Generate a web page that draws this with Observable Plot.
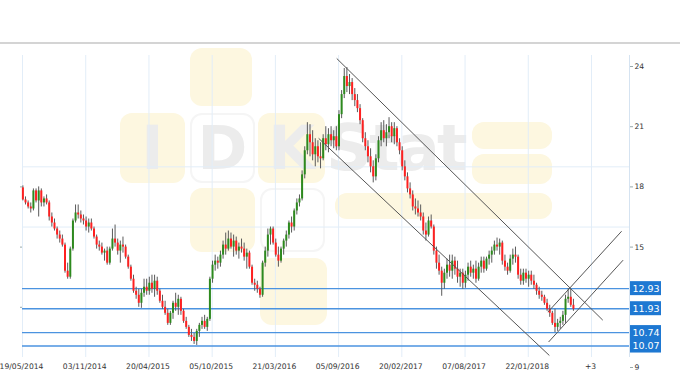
<!DOCTYPE html>
<html><head><meta charset="utf-8">
<script src="https://cdn.jsdelivr.net/npm/d3@7"></script>
<script src="https://cdn.jsdelivr.net/npm/@observablehq/plot@0.6"></script>
<style>
html,body{margin:0;padding:0;background:#fff;width:680px;height:380px;overflow:hidden}
#topbar{height:42px;border-bottom:2px solid #d4d4d4}
#wrap{position:relative;width:680px;height:336px}
#wm{position:absolute;left:0;top:0;width:680px;height:336px;z-index:0}
#wm div{position:absolute;border-radius:12px;box-sizing:border-box}
#wm .y{background:#fdf7e0}
#wm .w{background:#fff;border:2px solid #f5f5f5}
#wm .t{font-family:"DejaVu Sans";font-weight:bold;color:#ececec;text-align:center;border-radius:0}
#chart{position:absolute;left:0;top:0;z-index:1}
</style></head>
<body>
<div id="topbar"></div>
<div id="wrap">
  <div id="wm">
    <div class="y" style="left:190px;top:4px;width:62px;height:58px"></div>
    <div class="y" style="left:120px;top:69px;width:65px;height:70px"></div>
    <div class="w" style="left:190px;top:69px;width:65px;height:70px"></div>
    <div class="y" style="left:258px;top:69px;width:67px;height:70px"></div>
    <div class="y" style="left:472px;top:78px;width:80px;height:27px"></div>
    <div class="y" style="left:472px;top:110px;width:80px;height:30px"></div>
    <div class="y" style="left:335px;top:149px;width:217px;height:26px"></div>
    <div class="y" style="left:190px;top:144px;width:65px;height:64px"></div>
    <div class="w" style="left:260px;top:144px;width:65px;height:64px"></div>
    <div class="y" style="left:260px;top:214px;width:67px;height:67px"></div>
    <div class="t" style="left:120px;top:68px;width:65px;font-size:60px;line-height:72px">I</div>
    <div class="t" style="left:190px;top:68px;width:65px;font-size:60px;line-height:72px">D</div>
    <div class="t" style="left:258px;top:68px;width:67px;font-size:60px;line-height:72px">K</div>
    <div class="t" style="left:326px;top:66px;width:145px;font-size:64px;line-height:76px;letter-spacing:-3px;text-align:left">Stat</div>
  </div>
  <div id="chart"></div>
</div>
<script>
// weekly candles [open, high, low, close], first week starting 2014-05-20
const firstWeek = "2014-05-20";
const ohlc = [
[17.95,18.05,17.3,17.35],[17.35,17.5,17.1,17.2],[17.2,17.3,16.9,17.0],[17.0,17.2,16.7,16.9],[16.9,17.9,16.8,17.8],
[17.8,17.9,17.2,17.3],[17.3,18.0,16.5,17.8],[17.8,17.9,17.0,17.2],[17.2,17.5,17.0,17.4],[17.4,17.6,17.1,17.2],
[17.2,17.3,16.3,16.5],[16.5,16.7,16.0,16.2],[16.2,16.4,15.8,15.9],[15.9,16.0,15.4,15.6],[15.6,15.8,15.2,15.4],
[15.4,15.6,15.0,15.1],[15.1,15.2,13.7,13.8],[13.8,14.2,13.4,13.5],[13.5,15.0,13.4,14.9],[14.9,16.4,14.8,16.3],
[16.3,17.1,16.2,16.7],[16.7,17.1,16.4,16.6],[16.6,16.8,16.2,16.4],[16.4,16.6,16.1,16.3],[16.3,16.5,15.8,16.0],
[16.0,16.4,15.7,16.2],[16.2,16.4,15.8,15.9],[15.9,16.0,15.4,15.5],[15.5,15.6,14.9,15.1],[15.1,15.3,14.8,15.0],
[15.0,15.2,14.6,14.7],[14.7,14.9,14.3,14.8],[14.8,15.0,14.1,14.2],[14.2,15.0,14.1,14.9],[14.9,15.9,14.8,15.4],
[15.4,16.1,15.0,15.2],[15.2,15.4,14.6,14.8],[14.8,15.3,14.2,15.1],[15.1,15.5,14.7,15.0],[15.0,15.1,14.4,14.5],
[14.5,14.6,13.9,14.0],[14.0,14.1,13.3,13.4],[13.4,13.6,12.7,12.8],[12.8,13.0,12.4,12.6],[12.6,12.9,12.0,12.2],
[12.2,12.9,11.95,12.7],[12.7,13.4,12.5,13.0],[13.0,13.4,12.6,12.8],[12.8,13.5,12.6,13.2],[13.2,13.6,12.7,12.9],
[12.9,13.6,12.5,13.3],[13.3,13.5,12.6,12.8],[12.8,12.9,12.2,12.3],[12.3,12.6,11.9,12.0],[12.0,12.3,11.6,11.7],
[11.7,11.9,11.1,11.2],[11.2,11.8,11.1,11.7],[11.7,12.3,11.4,12.2],[12.2,12.7,11.8,12.0],[12.0,12.6,11.6,12.4],
[12.4,12.5,11.6,11.8],[11.8,11.9,11.2,11.3],[11.3,11.5,10.9,11.0],[11.0,11.1,10.5,10.6],[10.6,10.9,10.3,10.5],
[10.5,10.7,10.15,10.3],[10.3,10.9,10.1,10.8],[10.8,11.2,10.5,11.1],[11.1,11.5,10.9,11.3],[11.3,11.6,10.9,11.0],
[11.0,11.5,10.8,11.4],[11.4,13.5,11.3,13.4],[13.4,14.3,13.2,14.1],[14.1,14.6,13.8,14.3],[14.3,14.5,13.9,14.2],
[14.2,14.8,14.0,14.6],[14.6,15.3,14.4,15.1],[15.1,15.7,14.6,14.9],[14.9,15.8,14.8,15.4],[15.4,15.7,14.9,15.0],
[15.0,15.6,14.5,15.3],[15.3,15.5,14.6,14.8],[14.8,15.2,14.4,15.0],[15.0,15.4,14.7,14.9],[14.9,15.2,14.3,14.5],
[14.5,14.9,13.9,14.7],[14.7,14.8,13.9,14.0],[14.0,14.1,13.1,13.2],[13.2,13.4,12.8,13.1],[13.1,13.3,12.7,12.9],
[12.9,13.0,12.45,12.6],[12.6,14.3,12.5,14.2],[14.2,15.0,14.0,14.8],[14.8,15.9,14.5,15.6],[15.6,16.0,15.1,15.9],
[15.9,16.0,15.1,15.2],[15.2,15.4,14.5,14.6],[14.6,15.0,14.0,14.3],[14.3,15.0,14.2,14.9],[14.9,15.4,14.6,15.3],
[15.3,15.8,15.0,15.6],[15.6,16.3,15.4,16.2],[16.2,16.5,15.7,16.0],[16.0,16.9,15.8,16.8],[16.8,17.4,16.6,17.2],
[17.2,17.6,17.0,17.4],[17.4,18.8,17.3,18.6],[18.6,20.0,18.4,19.8],[19.8,21.2,19.6,20.6],[20.6,21.1,19.5,20.2],
[20.2,20.8,19.3,19.6],[19.6,20.4,19.0,20.0],[20.0,20.3,19.2,19.5],[19.5,20.2,18.9,19.4],[19.4,20.6,19.3,20.4],
[20.4,21.0,19.8,20.1],[20.1,20.9,19.7,20.6],[20.6,21.0,20.0,20.3],[20.3,20.8,19.9,20.5],[20.5,21.0,19.8,20.0],
[20.0,21.8,19.8,21.6],[21.6,22.8,21.4,22.6],[22.6,23.9,22.4,23.5],[23.5,23.95,22.7,23.0],[23.0,23.6,22.6,23.2],
[23.2,23.4,22.3,22.6],[22.6,22.9,22.0,22.3],[22.3,22.6,21.7,21.9],[21.9,22.1,21.1,21.3],[21.3,21.4,20.2,20.4],
[20.4,20.7,19.8,20.0],[20.0,20.3,19.2,19.5],[19.5,19.9,18.7,19.0],[19.0,19.3,18.2,18.5],[18.5,19.6,18.3,19.4],
[19.4,20.5,19.2,20.3],[20.3,21.2,20.0,20.8],[20.8,21.3,20.2,20.4],[20.4,21.1,20.0,20.7],[20.7,21.45,20.4,21.0],
[21.0,21.2,20.2,20.5],[20.5,21.2,20.1,20.9],[20.9,21.0,20.0,20.2],[20.2,20.4,19.6,19.8],[19.8,20.0,18.8,19.0],
[19.0,19.3,18.3,18.5],[18.5,18.7,17.7,17.9],[17.9,18.2,17.4,17.6],[17.6,17.8,16.8,17.0],[17.0,17.4,16.6,16.9],
[16.9,17.3,16.5,16.7],[16.7,17.1,16.3,16.5],[16.5,16.7,15.6,15.8],[15.8,16.2,15.3,15.6],[15.6,16.5,15.5,16.3],
[16.3,16.6,15.9,16.0],[16.0,16.1,14.6,14.8],[14.8,15.0,13.9,14.2],[14.2,14.6,13.6,13.8],[13.8,14.0,12.55,13.2],
[13.2,13.9,12.9,13.7],[13.7,14.4,13.4,14.1],[14.1,14.6,13.5,13.8],[13.8,14.6,13.4,14.3],[14.3,14.5,13.6,13.9],
[13.9,14.3,13.2,13.5],[13.5,13.9,13.0,13.7],[13.7,13.9,12.9,13.2],[13.2,13.8,12.95,13.6],[13.6,14.2,13.3,14.0],
[14.0,14.3,13.5,13.7],[13.7,14.1,13.4,13.9],[13.9,14.3,13.2,13.4],[13.4,14.2,13.3,14.0],[14.0,14.5,13.7,14.3],
[14.3,14.5,13.7,13.9],[13.9,14.5,13.8,14.4],[14.4,14.8,14.1,14.6],[14.6,15.0,14.2,14.8],[14.8,15.3,14.6,15.1],
[15.1,15.45,14.8,15.0],[15.0,15.4,14.6,15.2],[15.2,15.3,14.1,14.3],[14.3,14.6,13.8,14.0],[14.0,14.2,13.6,13.8],
[13.8,14.6,13.7,14.4],[14.4,14.9,14.1,14.6],[14.6,15.0,14.2,14.5],[14.5,14.6,13.4,13.6],[13.6,13.9,13.1,13.3],
[13.3,13.9,13.1,13.7],[13.7,13.9,13.2,13.4],[13.4,13.8,13.0,13.6],[13.6,13.8,13.1,13.3],[13.3,13.6,12.9,13.1],
[13.1,13.2,12.6,12.8],[12.8,13.0,12.4,12.6],[12.6,12.8,12.3,12.5],[12.5,12.6,12.1,12.2],[12.2,12.4,11.8,11.9],
[11.9,12.1,11.5,11.7],[11.7,11.8,11.1,11.2],[11.2,11.9,10.74,11.0],[11.0,11.4,10.8,11.2],[11.2,11.5,10.9,11.3],
[11.3,11.8,11.1,11.6],[11.6,12.6,11.2,12.4],[12.4,12.93,12.2,12.5],[12.5,12.9,12.0,12.1],[12.1,12.4,11.8,11.9]
];
const tickDates = ["2014-05-19","2014-11-03","2015-04-20","2015-10-05","2016-03-21","2016-09-05","2017-02-20","2017-08-07","2018-01-22","2018-07-09"];
const tickLabels = ["19/05/2014","03/11/2014","20/04/2015","05/10/2015","21/03/2016","05/09/2016","20/02/2017","07/08/2017","22/01/2018","+3"];
const yTicks = [24, 21, 18, 15, 9];
const gridValues = [19, 16];
const levels = [12.93, 11.93, 10.74, 10.07];
const trendLines = [
  {x1:"2016-08-31", y1:24.4,  x2:"2018-08-08", y2:11.36},
  {x1:"2016-07-14", y1:20.42, x2:"2018-03-19", y2:9.6},
  {x1:"2018-03-15", y1:11.76, x2:"2018-09-27", y2:15.79},
  {x1:"2018-03-17", y1:10.27, x2:"2018-10-01", y2:14.35}
];
const xDomain = ["2014-05-19", "2018-10-18"];
const yDomain = [9, 24];

const D = s => new Date(s);
const t0 = Date.parse(firstWeek);
const candles = ohlc.map(([o,h,l,c], i) => ({date: new Date(t0 + i*7*864e5), open:o, high:h, low:l, close:c}));
const ticks = tickDates.map(D);
const xEnd = D(xDomain[1]);
const lines = trendLines.map(d => ({x1: D(d.x1), y1: d.y1, x2: D(d.x2), y2: d.y2}));

const chart = Plot.plot({
  width: 680, height: 336,
  marginLeft: 22, marginRight: 51, marginTop: 11, marginBottom: 23,
  style: {background: "transparent", fontFamily: "DejaVu Sans", fontSize: "7.6px", color: "#333", overflow: "visible"},
  x: {type: "utc", domain: xDomain.map(D)},
  y: {domain: yDomain, range: [323, 22]},
  marks: [
    Plot.ruleX(ticks, {stroke: "#e2edf8", strokeWidth: 1}),
    Plot.ruleY(gridValues, {stroke: "#e2edf8", strokeWidth: 1}),
    Plot.ruleX([xEnd], {stroke: "#d5e3f1", strokeWidth: 1}),
    Plot.ruleY(levels, {stroke: "#4b93e0", strokeWidth: 1.4}),
    Plot.ruleX(candles, {x: "date", y1: "low", y2: "high", stroke: "#5a5a5a", strokeWidth: 1}),
    Plot.ruleX(candles, {x: "date", y1: "open", y2: "close", strokeWidth: 2,
      stroke: d => d.close >= d.open ? "#2d8a1e" : "#ff2020"}),
    Plot.link(lines, {x1: "x1", y1: "y1", x2: "x2", y2: "y2", stroke: "#555", strokeWidth: 1}),
    Plot.rect(levels, {x1: () => xEnd, x2: () => xEnd, y1: d => d, y2: d => d,
      insetLeft: 1, insetRight: -32, insetTop: -7, insetBottom: -7, fill: "#1e78d2"}),
    Plot.text(levels, {x: () => xEnd, y: d => d, text: d => d.toFixed(2), dx: 16.5,
      fill: "white", fontSize: 9.5, fontFamily: "DejaVu Sans"}),
    Plot.axisY({anchor: "right", ticks: yTicks, tickSize: 3, tickPadding: 2, stroke: "#9aa", fill: "#333"}),
    Plot.axisY({anchor: "left", ticks: [18, 15, 12], tickSize: 2, tickFormat: () => "", stroke: "#9aa"}),
    Plot.axisX({ticks: ticks, tickSize: 0, tickPadding: 6, dx: -1, fill: "#333",
      tickFormat: d => tickLabels[ticks.findIndex(t => +t === +d)]})
  ]
});
document.getElementById("chart").appendChild(chart);
</script>
</body></html>
